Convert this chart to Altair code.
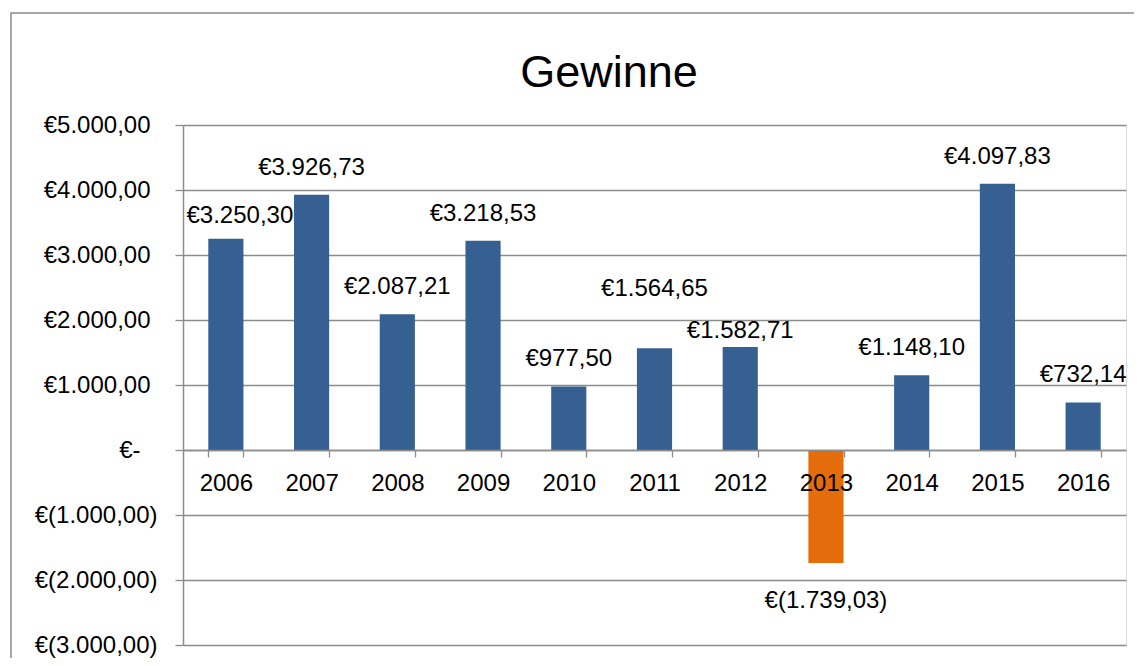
import altair as alt
import pandas as pd

years = ["2006", "2007", "2008", "2009", "2010", "2011", "2012", "2013", "2014", "2015", "2016"]
profits = [3250.30, 3926.73, 2087.21, 3218.53, 977.50, 1564.65, 1582.71, -1739.03, 1148.10, 4097.83, 732.14]
y_ticks = [-3000, -2000, -1000, 0, 1000, 2000, 3000, 4000, 5000]
title_text = ["Gewinne"]

FONT = "Liberation Sans"
BLUE = "#376092"
ORANGE = "#E46C0A"
GRID = "#8c8c8c"

df = pd.DataFrame({"year": years, "value": profits})


def de_num(v):
    return ("replace(replace(replace(format(%s, ',.2f'), ',', '#'), '.', ','), '#', '.')" % v)


def euro_expr(v):
    return (
        "{v} == 0 ? '€-' : ({v} > 0 ? '€' + {p} : '€(' + {n} + ')')".format(
            v=v, p=de_num(v), n=de_num("-" + v)
        )
    )


base = alt.Chart(df).transform_calculate(
    label=euro_expr("datum.value")
).encode(
    x=alt.X(
        "year:N",
        sort=years,
        scale=alt.Scale(paddingInner=0.59, paddingOuter=0.295),
        axis=alt.Axis(
            title=None,
            orient="bottom",
            offset=-195,
            labelAngle=0,
            labelFont=FONT,
            labelFontSize=24,
            labelColor="black",
            labelPadding=14,
            tickBand="extent",
            tickSize=7,
            tickColor=GRID,
            tickWidth=1.3,
            domainColor=GRID,
            domainWidth=1.5,
            grid=False,
            zindex=1,
        ),
    ),
    y=alt.Y(
        "value:Q",
        scale=alt.Scale(domain=[-3000, 5000], nice=False, zero=False),
        axis=alt.Axis(
            title=None,
            values=y_ticks,
            labelExpr=euro_expr("datum.value"),
            labelFont=FONT,
            labelFontSize=24,
            labelColor="black",
            labelPadding={
                "condition": [
                    {"test": "datum.value == 0", "value": 35},
                    {"test": "datum.value > 0", "value": 25},
                ],
                "value": 18,
            },
            tickSize=8,
            tickColor=GRID,
            tickWidth=1.3,
            domainColor=GRID,
            domainWidth=1.5,
            grid=True,
            gridColor=GRID,
            gridWidth=1.3,
        ),
    ),
)

bars = base.mark_bar().encode(
    color=alt.condition(alt.datum.value < 0, alt.value(ORANGE), alt.value(BLUE))
)

text_style = dict(font=FONT, fontSize=24, color="black", baseline="bottom")

pos_labels = base.transform_filter(
    "datum.value > 0 && indexof(['2006', '2011', '2012'], datum.year) < 0"
).mark_text(dy=-15, **text_style).encode(text="label:N")

first_label = base.transform_filter(alt.datum.year == "2006").mark_text(
    dy=-11, dx=14, **text_style
).encode(text="label:N")

raised_label = base.transform_filter(alt.datum.year == "2011").mark_text(
    dy=-47, **text_style
).encode(text="label:N")

low_label = base.transform_filter(alt.datum.year == "2012").mark_text(
    dy=-4, **text_style
).encode(text="label:N")

neg_labels = base.transform_filter(alt.datum.value < 0).mark_text(
    font=FONT, fontSize=24, color="black", baseline="top", dy=26
).encode(text="label:N")

title = alt.Chart(pd.DataFrame({"t": title_text})).mark_text(
    font=FONT, fontSize=45, color="black", baseline="alphabetic", align="center"
).encode(text="t:N", x=alt.value(426), y=alt.value(-38))

border = alt.Chart(pd.DataFrame({"b": [0]})).mark_rect(
    fillOpacity=0, stroke=GRID, strokeWidth=1.5
).encode(
    x=alt.value(-172), x2=alt.value(1400), y=alt.value(-112), y2=alt.value(900)
)

chart = alt.layer(
    border, bars, pos_labels, first_label, raised_label, low_label, neg_labels, title
).properties(
    width=943,
    height=520,
    autosize=alt.AutoSizeParams(type="none"),
    padding={"left": 175, "top": 117, "right": 8, "bottom": 13},
).configure_view(stroke=None).configure(background="white")

chart.save("out.html", embed_options={"renderer": "svg", "actions": False})
